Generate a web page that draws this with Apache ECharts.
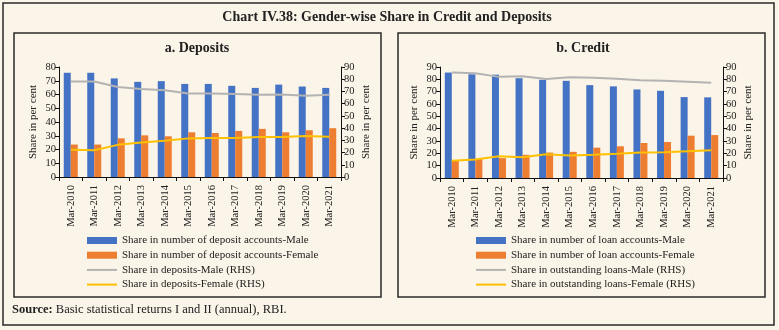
<!DOCTYPE html>
<html>
<head>
<meta charset="utf-8">
<script src="https://cdn.jsdelivr.net/npm/echarts@6/dist/echarts.min.js"></script>
<style>
  html, body { margin: 0; padding: 0; background: #FBF4E8; }
  #chart { width: 779px; height: 330px; }
</style>
</head>
<body>
<div id="chart"></div>
<script>
// Years on the category axis (shared by both panels)
const categories = ['Mar-2010', 'Mar-2011', 'Mar-2012', 'Mar-2013', 'Mar-2014', 'Mar-2015',
                    'Mar-2016', 'Mar-2017', 'Mar-2018', 'Mar-2019', 'Mar-2020', 'Mar-2021'];

// Panel a: deposits (bars on left axis, lines on right axis)
const depositAccMale   = [75.8, 75.8, 71.7, 69.2, 69.7, 67.7, 67.7, 66.3, 64.8, 67.2, 65.8, 64.8];
const depositAccFemale = [23.6, 23.6, 28.1, 30.3, 29.6, 32.5, 32.0, 33.5, 35.0, 32.5, 34.0, 35.5];
const depositsMale     = [78.1, 78.1, 73.7, 72.0, 70.9, 68.4, 68.4, 67.9, 67.3, 67.6, 66.5, 67.3];
const depositsFemale   = [22.2, 21.9, 26.3, 28.3, 29.6, 31.6, 31.9, 31.9, 32.7, 32.7, 33.5, 33.0];

// Panel b: credit
const loanAccMale   = [85.5, 84.1, 83.8, 80.9, 79.6, 78.8, 75.3, 74.3, 71.8, 70.7, 65.6, 65.4];
const loanAccFemale = [13.9, 15.5, 16.1, 18.8, 20.6, 21.2, 24.6, 25.7, 28.4, 29.2, 34.3, 34.8];
const loansMale     = [85.6, 85.0, 82.0, 82.5, 80.2, 81.7, 81.2, 80.4, 79.3, 78.8, 78.0, 77.2];
const loansFemale   = [13.9, 15.0, 17.7, 16.9, 19.3, 18.2, 18.8, 19.6, 20.6, 20.9, 21.7, 22.5];

// Axis ranges
const depLeftMax = 80, depRightMax = 90, credMax = 90;

const SERIF = '"Liberation Serif", "DejaVu Serif", serif';
const BLUE = '#4472C4', ORANGE = '#ED7D31', GREY = '#B3B3B3', GOLD = '#FFC000';
// thin horizontal stroke used as the legend key of the line series
const LINE_KEY = 'path://M0,0H30V2H0Z';

function valueAxis(gridIndex, max, position) {
  return {
    type: 'value', gridIndex, min: 0, max, interval: 10, position,
    name: 'Share in per cent', nameLocation: 'middle', nameRotate: 90, nameGap: 20,
    nameTextStyle: { fontFamily: SERIF, fontSize: 11, color: '#222' },
    axisLine: { show: true, lineStyle: { color: '#111', width: 1 } },
    axisTick: { show: true, length: 4, lineStyle: { color: '#111' } },
    axisLabel: { fontFamily: SERIF, fontSize: 10.5, color: '#222', margin: 3 },
    splitLine: { show: false }
  };
}

function catAxis(gridIndex) {
  return {
    type: 'category', gridIndex, data: categories, boundaryGap: true,
    axisLine: { lineStyle: { color: '#111', width: 1 } },
    axisTick: { show: true, length: 4, alignWithLabel: false, lineStyle: { color: '#111' } },
    axisLabel: { rotate: 90, interval: 0, fontFamily: SERIF, fontSize: 10.5, color: '#222', margin: 8 }
  };
}

function bar(name, data, color, x, y) {
  return { name, type: 'bar', data, xAxisIndex: x, yAxisIndex: y, barWidth: 7, barGap: '0%',
           itemStyle: { color } };
}
function line(name, data, color, x, y) {
  return { name, type: 'line', data, xAxisIndex: x, yAxisIndex: y, symbol: 'none',
           lineStyle: { color, width: 2 }, itemStyle: { color }, z: 5 };
}

function legend(left, names) {
  return {
    orient: 'vertical', left, top: 235, padding: 0, itemWidth: 30, itemHeight: 7, itemGap: 3.7,
    textStyle: { fontFamily: SERIF, fontSize: 11, color: '#222' },
    data: [
      { name: names[0], icon: 'rect' },
      { name: names[1], icon: 'rect' },
      { name: names[2], icon: LINE_KEY },
      { name: names[3], icon: LINE_KEY }
    ]
  };
}

const depNames = ['Share in number of deposit accounts-Male', 'Share in number of deposit accounts-Female',
                  'Share in deposits-Male (RHS)', 'Share in deposits-Female (RHS)'];
const credNames = ['Share in number of loan accounts-Male', 'Share in number of loan accounts-Female',
                   'Share in outstanding loans-Male (RHS)', 'Share in outstanding loans-Female (RHS)'];

const chart = echarts.init(document.getElementById('chart'), null, { renderer: 'canvas' });

chart.setOption({
  backgroundColor: '#FBF4E8',
  animation: false,
  graphic: [
    { type: 'rect', shape: { x: 3, y: 3, width: 771, height: 322 },
      style: { fill: 'none', stroke: '#2a2a2a', lineWidth: 1.5 }, silent: true },
    { type: 'rect', shape: { x: 14, y: 33, width: 367, height: 264 },
      style: { fill: 'none', stroke: '#2a2a2a', lineWidth: 1.5 }, silent: true },
    { type: 'rect', shape: { x: 398, y: 33, width: 367, height: 264 },
      style: { fill: 'none', stroke: '#2a2a2a', lineWidth: 1.5 }, silent: true },
    { type: 'text', x: 387, y: 17,
      style: { text: 'Chart IV.38: Gender-wise Share in Credit and Deposits', fill: '#222',
               font: 'bold 14px ' + SERIF, textAlign: 'center', textVerticalAlign: 'middle' } },
    { type: 'text', x: 197, y: 48,
      style: { text: 'a. Deposits', fill: '#222', font: 'bold 14px ' + SERIF,
               textAlign: 'center', textVerticalAlign: 'middle' } },
    { type: 'text', x: 583, y: 48,
      style: { text: 'b. Credit', fill: '#222', font: 'bold 14px ' + SERIF,
               textAlign: 'center', textVerticalAlign: 'middle' } },
    { type: 'text', x: 12, y: 310,
      style: {
        text: '{b|Source:} Basic statistical returns I and II (annual), RBI.',
        rich: { b: { fontWeight: 'bold', fontFamily: SERIF, fontSize: 12.5, fill: '#222' } },
        fontFamily: SERIF, fontSize: 12.5, fill: '#222', textVerticalAlign: 'middle'
      } }
  ],
  grid: [
    { left: 59, right: 438, top: 67, bottom: 153 },
    { left: 440, right: 56, top: 67, bottom: 152 }
  ],
  xAxis: [catAxis(0), catAxis(1)],
  yAxis: [
    valueAxis(0, depLeftMax, 'left'),
    valueAxis(0, depRightMax, 'right'),
    valueAxis(1, credMax, 'left'),
    valueAxis(1, credMax, 'right')
  ],
  legend: [legend(87, depNames), legend(476, credNames)],
  series: [
    bar(depNames[0], depositAccMale, BLUE, 0, 0),
    bar(depNames[1], depositAccFemale, ORANGE, 0, 0),
    line(depNames[2], depositsMale, GREY, 0, 1),
    line(depNames[3], depositsFemale, GOLD, 0, 1),
    bar(credNames[0], loanAccMale, BLUE, 1, 2),
    bar(credNames[1], loanAccFemale, ORANGE, 1, 2),
    line(credNames[2], loansMale, GREY, 1, 3),
    line(credNames[3], loansFemale, GOLD, 1, 3)
  ]
});
</script>
</body>
</html>
